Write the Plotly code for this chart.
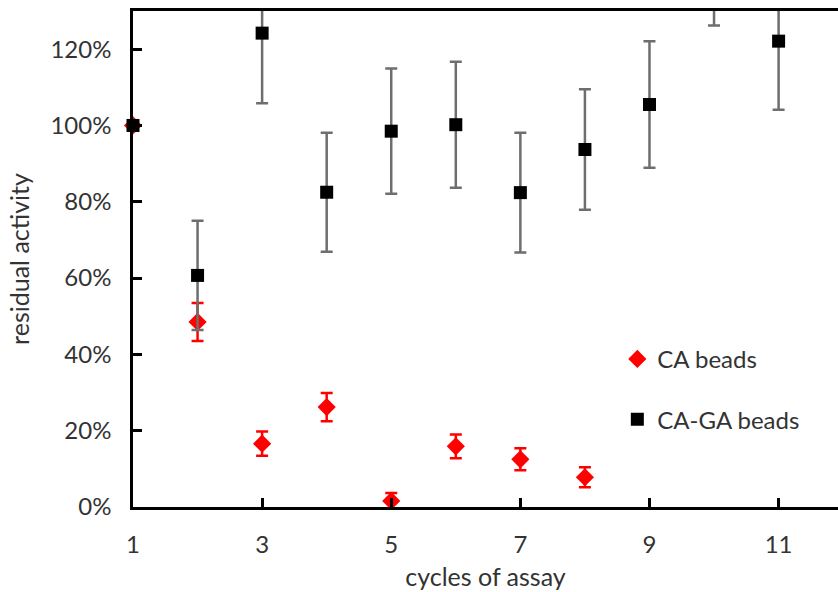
import plotly.graph_objects as go

cycles = [1, 2, 3, 4, 5, 6, 7, 8, 9, 10, 11]

ca_x = [1, 2, 3, 4, 5, 6, 7, 8]
ca_y = [100, 48.5, 16.6, 26.2, 1.6, 15.9, 12.5, 7.8]
ca_err = [0, 5.0, 3.2, 3.7, 2.1, 3.1, 2.9, 2.6]

caga_x = cycles
caga_y = [100, 60.7, 124.2, 82.5, 98.5, 100.2, 82.4, 93.7, 105.5, 143.0, 122.1]
caga_err = [0, 14.3, 18.4, 15.6, 16.4, 16.5, 15.7, 15.8, 16.6, 16.8, 18.0]

xtick_vals = [1, 3, 5, 7, 9, 11]
ytick_vals = [0, 20, 40, 60, 80, 100, 120]
ytick_text = ["0%", "20%", "40%", "60%", "80%", "100%", "120%"]

FONT = "Lato"
TXT = "#333333"

fig = go.Figure()
fig.add_trace(go.Scatter(
    x=ca_x, y=ca_y, mode="markers", name="CA beads", legendgroup="a",
    marker=dict(symbol="diamond", size=14, color="#ff0000"),
    error_y=dict(type="data", array=ca_err, visible=True, color="#ff0000",
                 thickness=2.5, width=6),
    cliponaxis=False,
))
fig.add_trace(go.Scatter(
    x=caga_x, y=caga_y, mode="markers", name="CA-GA beads", legendgroup="b",
    marker=dict(symbol="square", size=13, color="#000000"),
    error_y=dict(type="data", array=caga_err, visible=True, color="#6e6e6e",
                 thickness=2.5, width=6),
    cliponaxis=False,
))

fig.update_layout(
    width=838, height=592,
    margin=dict(l=133, r=0, t=11, b=85),
    paper_bgcolor="white", plot_bgcolor="white",
    font=dict(family=FONT, size=24, color=TXT),
    showlegend=True,
    legend=dict(x=0.687, y=0.343, xanchor="left", yanchor="top",
                font=dict(family=FONT, size=24, color=TXT),
                tracegroupgap=26, bgcolor="rgba(0,0,0,0)"),
    xaxis=dict(range=[1, 11.92], tickvals=xtick_vals, ticks="inside", ticklen=9,
               tickwidth=2.5, tickcolor="black", showline=True, linecolor="black",
               linewidth=2.5, mirror=True, showgrid=False, zeroline=False,
               ticklabelstandoff=14,
               title=dict(text="cycles of assay", standoff=12,
                          font=dict(family=FONT, size=25, color=TXT)),
               tickfont=dict(family=FONT, size=24, color=TXT)),
    yaxis=dict(range=[0, 130], tickvals=ytick_vals, ticktext=ytick_text,
               ticks="inside", ticklen=9, tickwidth=2.5, tickcolor="black",
               showline=True, linecolor="black", linewidth=2.5, showgrid=False,
               zeroline=False, ticklabelstandoff=14,
               title=dict(text="residual activity", standoff=14,
                          font=dict(family=FONT, size=25, color=TXT)),
               tickfont=dict(family=FONT, size=24, color=TXT)),
)

fig.write_html("out.html")
